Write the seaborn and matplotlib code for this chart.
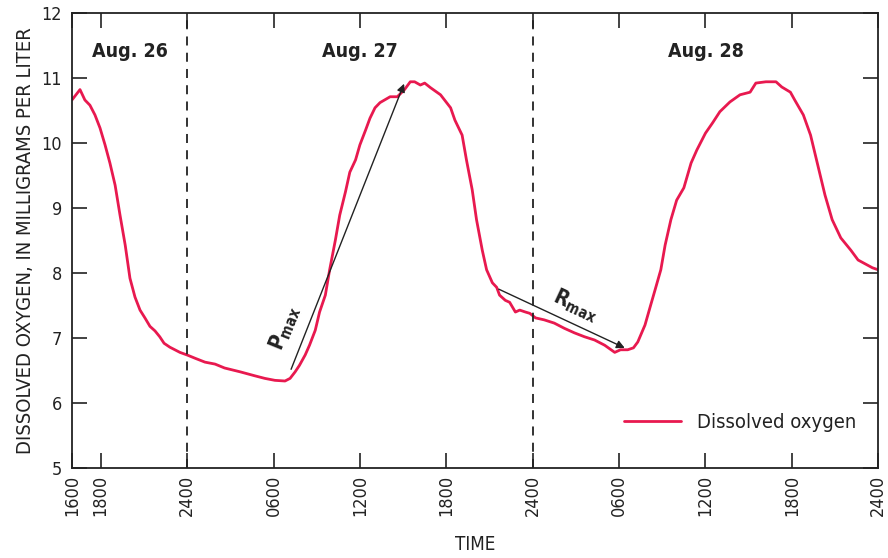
import matplotlib
matplotlib.use("Agg")
import matplotlib.pyplot as plt
import seaborn as sns
import pandas as pd

# hours since 1600 on Aug. 26
hours = [0.0, 0.42, 0.56, 0.9, 1.25, 1.6, 1.95, 2.3, 2.64, 3.0, 3.34, 3.7, 4.03, 4.38, 4.73,
         5.07, 5.42, 5.77, 6.1, 6.4, 6.8, 7.5, 8.0, 8.55, 9.24, 9.94, 10.6, 11.7, 12.7, 13.4,
         14.1, 14.8, 15.15, 15.5, 15.8, 16.2, 16.5, 16.9, 17.2, 17.6, 17.9, 18.3, 18.6, 19.0,
         19.3, 19.7, 20.0, 20.4, 20.7, 21.05, 21.4, 22.1, 22.6, 23.1, 23.5, 23.8, 24.2, 24.5,
         24.9, 25.6, 26.3, 26.6, 27.1, 27.4, 27.8, 28.1, 28.5, 28.8, 29.2, 29.5, 29.7, 30.1,
         30.4, 30.8, 31.1, 31.5, 31.8, 32.2, 32.8, 33.5, 34.2, 34.9, 35.6, 36.3, 37.0, 37.7,
         38.1, 38.6, 39.0, 39.3, 39.8, 40.2, 40.5, 40.9, 41.2, 41.6, 42.0, 42.5, 43.0, 43.4,
         44.0, 44.5, 45.0, 45.7, 46.4, 47.1, 47.5, 48.2, 48.9, 49.3, 49.9, 50.2, 50.8, 51.3,
         51.8, 52.3, 52.8, 53.4, 54.1, 54.6, 55.1, 55.6, 56.0]
oxygen = [10.66, 10.78, 10.82, 10.66, 10.58, 10.43, 10.23, 9.97, 9.69, 9.35, 8.89, 8.43, 7.92,
          7.63, 7.43, 7.31, 7.18, 7.11, 7.02, 6.92, 6.86, 6.78, 6.74, 6.69, 6.63, 6.60, 6.54,
          6.48, 6.42, 6.38, 6.35, 6.34, 6.38, 6.48, 6.58, 6.74, 6.89, 7.12, 7.40, 7.66, 8.05,
          8.51, 8.89, 9.25, 9.55, 9.74, 9.97, 10.2, 10.38, 10.54, 10.62, 10.71, 10.71, 10.82,
          10.94, 10.94, 10.89, 10.92, 10.85, 10.74, 10.54, 10.35, 10.12, 9.74, 9.28, 8.82, 8.35,
          8.05, 7.85, 7.78, 7.66, 7.58, 7.55, 7.40, 7.43, 7.40, 7.38, 7.31, 7.28, 7.23, 7.15,
          7.08, 7.02, 6.97, 6.89, 6.78, 6.82, 6.82, 6.85, 6.94, 7.2, 7.51, 7.74, 8.05, 8.43,
          8.82, 9.12, 9.31, 9.69, 9.89, 10.15, 10.31, 10.48, 10.63, 10.74, 10.78, 10.92, 10.94,
          10.94, 10.86, 10.78, 10.66, 10.43, 10.12, 9.66, 9.2, 8.82, 8.54, 8.35, 8.2, 8.14,
          8.08, 8.05]

tick_hours = [0, 2, 8, 14, 20, 26, 32, 38, 44, 50, 56]
tick_labels = ["1600", "1800", "2400", "0600", "1200", "1800", "2400", "0600", "1200", "1800", "2400"]
midnights = [8, 32]
day_labels = ["Aug. 26", "Aug. 27", "Aug. 28"]
day_label_hours = [4.0, 20.0, 44.0]

df = pd.DataFrame({"hour": hours, "oxygen": oxygen})

sns.set_style("ticks")
plt.rcParams["font.family"] = ["DejaVu Sans"]
plt.rcParams["font.stretch"] = "condensed"
for k in ["text.color", "axes.labelcolor", "xtick.color", "ytick.color", "axes.edgecolor"]:
    plt.rcParams[k] = "#222222"

fig = plt.figure(figsize=(8.88, 5.58), dpi=100)
ax = fig.add_axes([0.081, 0.161, 0.908, 0.816])

sns.lineplot(data=df, x="hour", y="oxygen", color="#E8194F", lw=2.0, ax=ax,
             label="Dissolved oxygen")

for m in midnights:
    ax.axvline(m, color="#222222", ls=(0, (5, 4)), lw=1.3)

for lab, h in zip(day_labels, day_label_hours):
    ax.text(h, 11.4, lab, ha="center", va="center", fontsize=14, fontweight="bold")

# Pmax / Rmax arrows
ax.annotate("", xy=(23.14, 10.95), xytext=(15.15, 6.48),
            arrowprops=dict(arrowstyle="-|>", color="#222222", lw=1.0, mutation_scale=12))
ax.annotate("", xy=(38.57, 6.83), xytext=(29.47, 7.77),
            arrowprops=dict(arrowstyle="-|>", color="#222222", lw=1.0, mutation_scale=12))
ax.text(14.8, 7.15, r"$\mathbf{P}_{\mathbf{max}}$", rotation=68, fontsize=15,
        ha="center", va="center")
ax.text(35.0, 7.5, r"$\mathbf{R}_{\mathbf{max}}$", rotation=-25, fontsize=15,
        ha="center", va="center")

ax.set_xlim(0, 56)
ax.set_ylim(5, 12)
ax.set_xticks(tick_hours)
ax.set_xticklabels(tick_labels, rotation=90)
ax.set_yticks(range(5, 13))
ax.tick_params(direction="in", length=11, width=1.2, labelsize=13, pad=5,
               top=True, right=True, labeltop=False, labelright=False)
ax.tick_params(axis="y", pad=7)
for s in ax.spines.values():
    s.set_linewidth(1.3)

ax.set_xlabel("TIME", fontsize=13.5, labelpad=13)
ax.set_ylabel("DISSOLVED OXYGEN, IN MILLIGRAMS PER LITER", fontsize=14.5, labelpad=5)

ax.legend(loc="lower right", frameon=False, fontsize=14.5, handlelength=2.8,
          bbox_to_anchor=(0.995, 0.04))

fig.savefig("out.png", dpi=100)
